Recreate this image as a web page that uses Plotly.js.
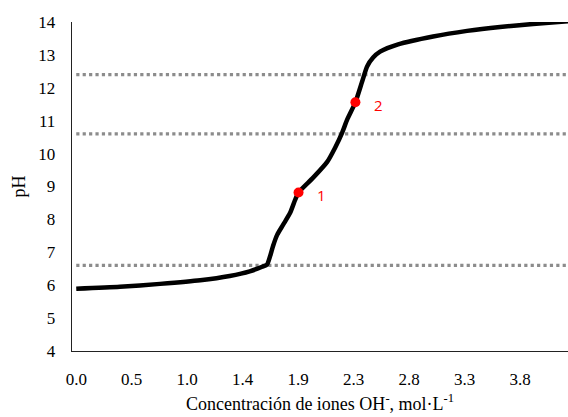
<!DOCTYPE html>
<html>
<head>
<meta charset="utf-8">
<script src="https://cdn.plot.ly/plotly-3.0.1.min.js"></script>
<style>html,body{margin:0;padding:0;background:#fff;}#chart{width:568px;height:417px;}</style>
</head>
<body>
<div id="chart"></div>
<script>
// Titration curve
const concentration = [0.00, 0.37, 0.71, 1.05, 1.30, 1.47, 1.575, 1.617, 1.643, 1.668, 1.702, 1.753, 1.812, 1.855, 1.883, 2.007, 2.126, 2.193, 2.253, 2.295, 2.365, 2.422, 2.464, 2.515, 2.574, 2.727, 3.023, 3.311, 3.590, 3.870, 4.166];
const pH =            [5.89, 5.95, 6.04, 6.15, 6.28, 6.42, 6.56, 6.63, 6.89, 7.20, 7.53, 7.84, 8.20, 8.60, 8.82, 9.27, 9.75, 10.18, 10.64, 11.03, 11.56, 12.19, 12.65, 12.92, 13.10, 13.32, 13.56, 13.73, 13.85, 13.94, 14.02];

const markedX = [1.883, 2.365];
const markedY = [8.82, 11.56];
const markedLabels = ["1", "2"];

const refLevels = [6.6, 10.6, 12.4];

const xTickVals = [0, 0.47, 0.94, 1.41, 1.88, 2.35, 2.82, 3.29, 3.76];
const xTickLabels = ["0.0", "0.5", "1.0", "1.4", "1.9", "2.3", "2.8", "3.3", "3.8"];
const yTickVals = [4, 5, 6, 7, 8, 9, 10, 11, 12, 13, 14];

const xMin = -0.036, xMax = 4.166;

const traces = [];
refLevels.forEach(function (lvl) {
  traces.push({
    x: [0, xMax], y: [lvl, lvl], mode: 'lines', hoverinfo: 'skip',
    line: {color: '#8c8c8c', width: 3.2, dash: 'dot'}, showlegend: false
  });
});
traces.push({
  x: concentration, y: pH, mode: 'lines',
  line: {color: '#000', width: 4.5, shape: 'spline', smoothing: 0.6},
  showlegend: false
});
traces.push({
  x: markedX, y: markedY, mode: 'markers',
  marker: {color: '#ff0000', size: 10},
  showlegend: false
});

const annotations = markedX.map(function (xv, i) {
  return {
    x: xv, y: markedY[i], text: markedLabels[i], showarrow: false,
    xshift: 23, yshift: -3,
    font: {family: 'Open Sans, Liberation Sans, sans-serif', size: 15, color: '#ff0000'}
  };
});

const serif = 'Liberation Serif, Times New Roman, serif';

const layout = {
  width: 568, height: 417,
  margin: {l: 72, r: 0, t: 22, b: 66},
  paper_bgcolor: '#fff', plot_bgcolor: '#fff',
  font: {family: serif, color: '#000', size: 17},
  xaxis: {
    range: [xMin, xMax], tickvals: xTickVals, ticktext: xTickLabels,
    showgrid: false, zeroline: false,
    showline: true, linecolor: '#222', linewidth: 1.3,
    ticks: 'outside', ticklen: 12, tickcolor: 'rgba(0,0,0,0)',
    tickfont: {family: serif, size: 17},
    title: {text: 'Concentración de iones OH<sup>-</sup>, mol·L<sup>-1</sup>', font: {family: serif, size: 18}, standoff: 9}
  },
  yaxis: {
    range: [4, 14], tickvals: yTickVals,
    showgrid: false, zeroline: false,
    showline: true, linecolor: '#222', linewidth: 1.3,
    ticks: 'outside', ticklen: 12, tickcolor: 'rgba(0,0,0,0)',
    tickfont: {family: serif, size: 17},
    title: {text: 'pH', font: {family: serif, size: 18}, standoff: 8}
  },
  annotations: annotations,
  showlegend: false
};

Plotly.newPlot('chart', traces, layout, {staticPlot: true, displayModeBar: false});
</script>
</body>
</html>
